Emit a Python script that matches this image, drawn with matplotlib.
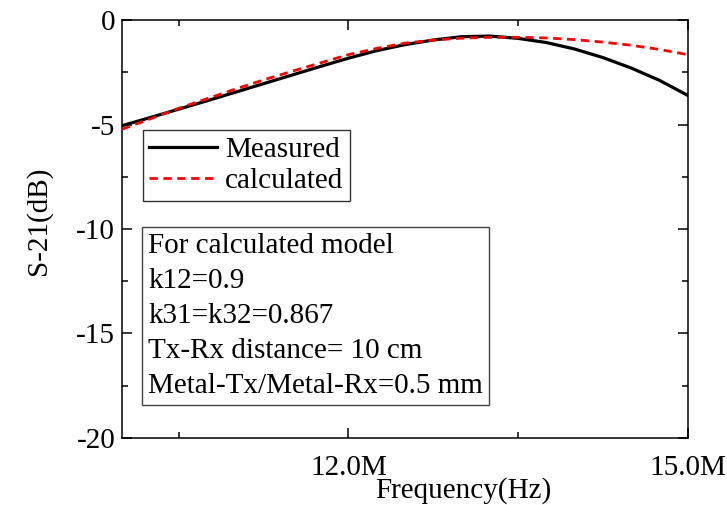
import numpy as np
import matplotlib
matplotlib.use('Agg')
import matplotlib.pyplot as plt
from matplotlib.ticker import MultipleLocator, FuncFormatter

plt.rcParams['font.family'] = ['Liberation Serif', 'DejaVu Serif']
plt.rcParams['mathtext.fontset'] = 'stix'

# S21 transmission, frequency in MHz
freq_mhz = [10.0, 10.25, 10.5, 10.75, 11.0, 11.25, 11.5, 11.75, 12.0, 12.25,
            12.5, 12.75, 13.0, 13.25, 13.5, 13.75, 14.0, 14.25, 14.5, 14.75, 15.0]
measured = [-5.05, -4.66, -4.26, -3.86, -3.45, -3.04, -2.63, -2.22, -1.82, -1.46,
            -1.17, -0.95, -0.79, -0.76, -0.87, -1.07, -1.38, -1.79, -2.29, -2.88, -3.60]
calculated = [-5.22, -4.72, -4.22, -3.76, -3.30, -2.86, -2.45, -2.05, -1.65, -1.35,
              -1.10, -0.95, -0.86, -0.82, -0.82, -0.85, -0.93, -1.05, -1.20, -1.40, -1.65]

info_lines = ['For calculated model',
              'k12=0.9',
              'k31=k32=0.867',
              'Tx-Rx distance= 10 cm',
              'Metal-Tx/Metal-Rx=0.5 mm']

FS = 21

fig = plt.figure(figsize=(7.27, 5.05), dpi=100)
ax = fig.add_axes([0.168, 0.133, 0.778, 0.827])

ax.plot(freq_mhz, measured, color='black', lw=2.3, label='Measured', zorder=3)
ax.plot(freq_mhz, calculated, color='red', lw=2.0, linestyle=(0, (3, 2)),
        label='calculated', zorder=4)

ax.set_xlim(10, 15)
ax.set_ylim(-20, 0)
ax.xaxis.set_major_locator(MultipleLocator(3))
ax.xaxis.set_minor_locator(MultipleLocator(1.5))
ax.xaxis.set_major_formatter(FuncFormatter(lambda v, p: f'{v:.1f}M'))
ax.yaxis.set_major_locator(MultipleLocator(5))
ax.yaxis.set_minor_locator(MultipleLocator(2.5))
ax.yaxis.set_major_formatter(FuncFormatter(lambda v, p: f'{v:g}'.replace('\u2212', '-')))

ax.tick_params(which='both', direction='in', top=True, right=True,
               width=1.1, labelsize=FS)
ax.tick_params(which='major', length=7)
ax.tick_params(which='minor', length=4.5)
ax.tick_params(axis='x', which='major', pad=12)
ax.tick_params(axis='y', which='major', pad=5)
for s in ax.spines.values():
    s.set_linewidth(1.1)

ax.set_xlabel('Frequency(Hz)', fontsize=FS)
ax.xaxis.set_label_coords(0.604, -0.093)
ax.set_ylabel('S-21(dB)', fontsize=FS)
ax.yaxis.set_label_coords(-0.124, 0.52)

leg = ax.legend(loc='upper left', bbox_to_anchor=(0.037, 0.737), borderaxespad=0,
                fontsize=FS, frameon=True, fancybox=False, handlelength=2.3,
                handletextpad=0.3, labelspacing=0.17, borderpad=0.22)
leg.get_frame().set_edgecolor('black')
leg.get_frame().set_linewidth(1.0)

ax.text(0.046, 0.49, '\n'.join(info_lines), transform=ax.transAxes,
        fontsize=FS, ha='left', va='top', linespacing=1.45,
        bbox=dict(boxstyle='square,pad=0.2', facecolor='white',
                  edgecolor='#444444', linewidth=1.0))

fig.savefig('out.png', dpi=100)
